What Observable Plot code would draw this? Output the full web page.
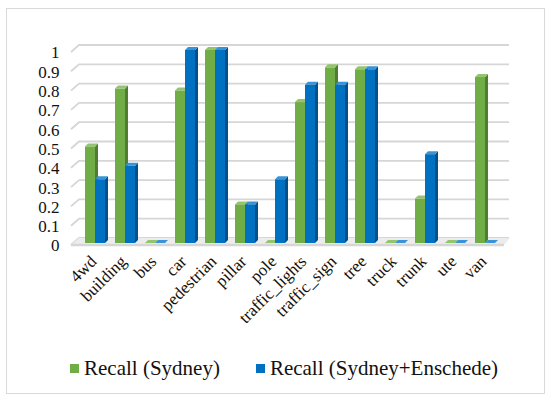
<!DOCTYPE html>
<html>
<head>
<meta charset="utf-8">
<script src="https://cdn.jsdelivr.net/npm/d3@7"></script>
<script src="https://cdn.jsdelivr.net/npm/@observablehq/plot@0.6"></script>
<style>
  body { margin: 0; background: #fff; }
  #wrap { position: relative; width: 552px; height: 400px; font-family: 'Liberation Serif', 'Times New Roman', serif; }
  #frame { position: absolute; left: 6px; top: 8px; width: 539px; height: 386px; border: 1px solid #d9d9d9; box-sizing: border-box; pointer-events: none; }
  #chart { position: absolute; left: 0; top: 0; }
  #legend { position: absolute; top: 356px; left: 70px; height: 24px; display: flex; align-items: center; font-size: 21px; color: #111; white-space: nowrap; }
  #legend .sw { width: 9px; height: 9px; margin-right: 5px; flex: none; }
  #legend .item + .item { margin-left: 36px; }
  #legend .item { display: flex; align-items: center; }
</style>
</head>
<body>
<div id="wrap">
  <div id="frame"></div>
  <div id="chart"></div>
  <div id="legend"></div>
</div>
<script>
// Object classes and per-class recall for the two training sets
const categories = ["4wd", "building", "bus", "car", "pedestrian", "pillar", "pole",
  "traffic_lights", "traffic_sign", "tree", "truck", "trunk", "ute", "van"];
const recallSydney    = [0.50, 0.80, 0, 0.79, 1.00, 0.20, 0,    0.73, 0.91, 0.90, 0, 0.23, 0, 0.86];
const recallEnschede  = [0.33, 0.40, 0, 1.00, 1.00, 0.20, 0.33, 0.82, 0.82, 0.90, 0, 0.46, 0, 0];
const seriesNames = ["Recall (Sydney)", "Recall (Sydney+Enschede)"];
const yTicks = [0, 0.1, 0.2, 0.3, 0.4, 0.5, 0.6, 0.7, 0.8, 0.9, 1];
const yTickLabels = ["0", "0.1", "0.2", "0.3", "0.4", "0.5", "0.6", "0.7", "0.8", "0.9", "1"];

const palette = [
  {front: "#70AD47", side: "#4F7D31", top: "#93C56F"},
  {front: "#0070C0", side: "#00508C", top: "#3A93D6"}
];

const barWidth = 10;   // front face width of each bar
const depth = 3;       // extrusion of the bars
const wallOffset = 5;  // back wall sits behind the front plane

// Back-wall gridlines with the short perspective slant on the left
function gridWall() {
  return Plot.ruleY(yTicks, {
    y: d => d,
    render(index, scales, values, dims) {
      const {y} = scales;
      const x0 = dims.marginLeft, x1 = dims.width - dims.marginRight;
      const g = d3.create("svg:g").attr("fill", "none").attr("stroke", "#d6d6d6").attr("stroke-width", 1.8);
      for (const i of index) {
        const v = y(yTicks[i]);
        g.append("path").attr("d", `M${x0},${v + 2}L${x0 + 8},${v - wallOffset}H${x1}`);
      }
      return g.node();
    }
  });
}

// Floor slab under the bars
function floor() {
  return Plot.ruleY([0], {
    y: d => d,
    render(index, scales, values, dims) {
      const {y} = scales;
      const x0 = dims.marginLeft, x1 = dims.width - dims.marginRight;
      const v = y(0);
      const g = d3.create("svg:g");
      g.append("path")
        .attr("d", `M${x0},${v + 2}L${x0 + 8},${v - wallOffset}H${x1 + 1}L${x1 - 5},${v + 2}Z`)
        .attr("fill", "#ececec");
      g.append("path")
        .attr("d", `M${x0},${v + 2}H${x1 - 5}`)
        .attr("stroke", "#d6d6d6").attr("stroke-width", 2.5);
      return g.node();
    }
  });
}

// Extruded bars: front face, darker right side and lighter top
function bars3d(values, s) {
  const rows = categories.map((c, i) => ({category: c, value: values[i]}));
  const col = palette[s];
  return Plot.barY(rows, {
    x: "category",
    y: "value",
    render(index, scales) {
      const {x, y} = scales;
      const bw = x.bandwidth();
      const y0 = y(0);
      const g = d3.create("svg:g");
      for (const i of index) {
        const cx = x(rows[i].category) + bw / 2;
        const a = s === 0 ? cx - barWidth : cx;
        const b = a + barWidth;
        const t = y(rows[i].value);
        g.append("path")
          .attr("d", `M${b},${y0}V${t}L${b + depth},${t - depth}V${y0 - depth}Z`)
          .attr("fill", col.side);
        g.append("path")
          .attr("d", `M${a},${t}H${b}L${b + depth},${t - depth}H${a + depth}Z`)
          .attr("fill", col.top);
        if (y0 - t > 0) {
          g.append("rect")
            .attr("x", a).attr("y", t).attr("width", barWidth).attr("height", y0 - t)
            .attr("fill", col.front);
        }
      }
      return g.node();
    }
  });
}

const chart = Plot.plot({
  width: 552,
  height: 340,
  marginLeft: 71,
  marginRight: 43,
  marginTop: 50,
  marginBottom: 97,
  style: {fontFamily: "'Liberation Serif', 'Times New Roman', serif", background: "transparent", color: "#111"},
  x: {domain: categories, paddingInner: 0, paddingOuter: 0.135, axis: null},
  y: {domain: [0, 1], axis: null},
  marks: [
    gridWall(),
    floor(),
    bars3d(recallSydney, 0),
    bars3d(recallEnschede, 1),
    Plot.axisY(yTicks, {
      tickSize: 0,
      tickPadding: 12,
      dy: 2.5,
      fontSize: 17,
      label: null,
      tickFormat: (d, i) => yTickLabels[i],
      fill: "#111"
    }),
    Plot.text(categories, {
      x: d => d,
      frameAnchor: "bottom",
      dx: 2,
      dy: 19,
      rotate: -45,
      textAnchor: "end",
      fontSize: 17,
      fill: "#111"
    })
  ]
});
document.getElementById("chart").appendChild(chart);

// Legend below the plot
const legend = d3.select("#legend");
seriesNames.forEach((name, i) => {
  const item = legend.append("span").attr("class", "item");
  item.append("span").attr("class", "sw").style("background", palette[i].front);
  item.append("span").text(name);
});
</script>
</body>
</html>
